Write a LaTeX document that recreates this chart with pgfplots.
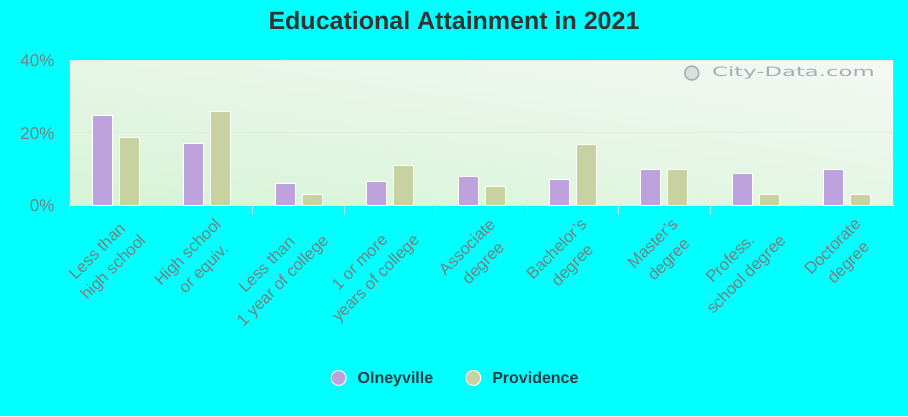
\documentclass[border=0pt]{standalone}
\usepackage{fontspec}
\setmainfont{Liberation Sans}
\newfontfamily\wmfont{DejaVu Sans}
\usepackage{pgfplots}
\pgfplotsset{compat=1.18}
\usetikzlibrary{shadings}
\definecolor{bgcyan}{RGB}{0,255,255}
\definecolor{olney}{RGB}{190,162,222}
\definecolor{prov}{RGB}{200,210,160}
\definecolor{ticktext}{RGB}{118,128,128}
\definecolor{titletext}{RGB}{51,51,51}
\definecolor{legtext}{RGB}{40,60,64}
\definecolor{tickline}{RGB}{185,238,238}
\definecolor{gridc}{RGB}{224,236,224}
\definecolor{wmark}{RGB}{165,175,178}
\definecolor{bgLL}{RGB}{214,244,214}
\definecolor{bgUL}{RGB}{230,246,230}
\definecolor{bgLR}{RGB}{228,246,228}
\definecolor{bgUR}{RGB}{244,248,244}
\begin{document}
\begin{tikzpicture}[x=1pt,y=1pt]
\fill[bgcyan] (0,0) rectangle (908,416);
\path[use as bounding box] (0,0) rectangle (908,416);
\node[font=\fontsize{25}{29}\selectfont\bfseries, text=titletext] at (454,395) {Educational Attainment in 2021};
\begin{axis}[
  at={(70pt,211pt)}, anchor=south west,
  width=823pt, height=145pt, scale only axis,
  xmin=-0.5, xmax=8.5, ymin=0, ymax=40,
  axis background/.style={shade, lower left=bgLL, upper left=bgUL, lower right=bgLR, upper right=bgUR},
  axis line style={draw=none},
  ybar=7pt, bar width=20pt,
  ytick={0,20,40}, yticklabels={0\%,20\%,40\%},
  ytick style={draw=none},
  ymajorgrids, grid style={gridc, line width=0.8pt},
  yticklabel style={font=\fontsize{17}{18}\selectfont, text=ticktext, xshift=-12pt, yshift=-1pt},
  xtick={0,...,8},
  xticklabels={{Less than\\high school},{High school\\or equiv.},{Less than\\1 year of college},{1 or more\\years of college},{Associate\\degree},{Bachelor's\\degree},{Master's\\degree},{Profess.\\school degree},{Doctorate\\degree}},
  xticklabel style={font=\fontsize{16.5}{22.5}\selectfont, text=ticktext, rotate=45, anchor=north east, align=center, inner sep=2pt, yshift=-11pt, xshift=-2pt},
  tick align=outside,
  xtick pos=bottom,
  major tick length=0pt,
  extra x ticks={-0.5,0.5,1.5,2.5,3.5,4.5,5.5,6.5,7.5,8.5},
  extra x tick labels={},
  extra x tick style={major tick length=10pt, tick style={draw=tickline, line width=1pt}},
  legend columns=2,
  legend style={draw=none, fill=none, at={(rel axis cs:0.4685,-1.193)}, anchor=center,
    font=\fontsize{16}{18}\selectfont\bfseries, text=legtext,
    /tikz/every odd column/.append style={column sep=9pt},
    /tikz/every even column/.append style={column sep=30pt}},
  legend cell align=left,
  legend image code/.code={\fill (0pt,0pt) circle (7.5pt);},
]
\addplot[fill=olney, draw=white, line width=1pt] coordinates {(0,24.8) (1,17.0) (2,5.8) (3,6.5) (4,7.8) (5,7.1) (6,9.7) (7,8.6) (8,9.7)};
\addplot[fill=prov, draw=white, line width=1pt] coordinates {(0,18.7) (1,25.9) (2,3.0) (3,10.8) (4,5.1) (5,16.6) (6,9.7) (7,2.8) (8,2.8)};
\legend{Olneyville,Providence}
\node[anchor=east, text=wmark, inner sep=0pt] at (rel axis cs:0.978,0.91) {\scalebox{1.75}[1]{\wmfont\fontsize{13}{14}\selectfont City-Data.com}};
\draw[wmark, line width=1.5pt, fill=wmark!40] (rel axis cs:0.7555,0.91) circle (7pt);
\end{axis}
\end{tikzpicture}
\end{document}
